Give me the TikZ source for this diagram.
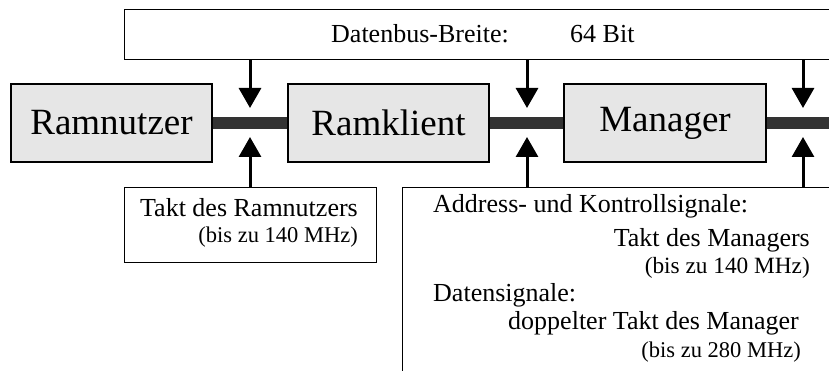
\documentclass[tikz,border=0pt]{standalone}
\usepackage{fontspec}
\setmainfont{Liberation Serif}
\usetikzlibrary{arrows.meta}
\definecolor{boxfill}{HTML}{E6E6E6}
\definecolor{busgray}{HTML}{333333}
\tikzset{
  unitbox/.style={draw=black, line width=1.2pt, fill=boxfill, inner sep=0pt,
    minimum width=201pt, minimum height=78pt,
    font=\fontsize{37}{40}\selectfont},
  infobox/.style={draw=black, line width=1.2pt, fill=white, inner sep=0pt, anchor=north west},
  txt/.style={inner sep=0pt, font=\fontsize{26}{28}\selectfont},
  smalltxt/.style={inner sep=0pt, font=\fontsize{22.5}{25}\selectfont},
  busline/.style={draw=busgray, line width=12pt},
  sigarrow/.style={draw=black, line width=3pt, -{Triangle[length=20pt,width=22pt]}}
}
\begin{document}
\begin{tikzpicture}[x=1pt, y=-1pt]
\useasboundingbox (0,0) rectangle (829,371);
\clip (0,0) rectangle (829,371);

% bus width box at the top
\node[infobox, minimum width=720pt, minimum height=50pt] (width) at (124,9) {};
\node[txt, anchor=base west] (wlabel) at (331,43) {Datenbus-Breite:};
\node[txt, anchor=base west] (wvalue) at (570,43) {64 Bit};

% clock boxes below the bus
\node[infobox, minimum width=252pt, minimum height=75pt] (clk1) at (124,187) {};
\node[infobox, minimum width=440pt, minimum height=200pt] (clk2) at (402,187) {};

\node[txt, anchor=base east] (c1a) at (358,217) {Takt des Ramnutzers};
\node[smalltxt, anchor=base east] (c1b) at (358,243) {(bis zu 140 MHz)};

\node[txt, anchor=base west] (c2a) at (433,213) {Address- und Kontrollsignale:};
\node[txt, anchor=base east] (c2b) at (810,246.5) {Takt des Managers};
\node[smalltxt, anchor=base east, font=\fontsize{23.3}{25}\selectfont] (c2c) at (810,273) {(bis zu 140 MHz)};
\node[txt, anchor=base west] (c2d) at (433,301) {Datensignale:};
\node[txt, anchor=base east] (c2e) at (799,329) {doppelter Takt des Manager};
\node[smalltxt, anchor=base east] (c2f) at (801,357) {(bis zu 280 MHz)};

% units on the bus
\node[unitbox] (user) at (111.5,123) {Ramnutzer};
\node[unitbox] (client) at (388.5,123) {Ramklient};
\node[unitbox, minimum width=202pt] (mgr) at (665,123) {Manager};
\coordinate (busend) at (840,123);

\draw[busline] (user.east) -- (client.west);
\draw[busline] (client.east) -- (mgr.west);
\draw[busline] (mgr.east) -- (busend);

% signal arrows onto the bus
\coordinate (d1) at (250,108);
\coordinate (d2) at (527,108);
\coordinate (d3) at (803,108);
\coordinate (u1) at (250,137);
\coordinate (u2) at (527,137);
\coordinate (u3) at (803,137);

\draw[sigarrow] (width.south -| d1) -- (d1);
\draw[sigarrow] (width.south -| d2) -- (d2);
\draw[sigarrow] (width.south -| d3) -- (d3);
\draw[sigarrow] (clk1.north -| u1) -- (u1);
\draw[sigarrow] (clk2.north -| u2) -- (u2);
\draw[sigarrow] (clk2.north -| u3) -- (u3);
\end{tikzpicture}
\end{document}
